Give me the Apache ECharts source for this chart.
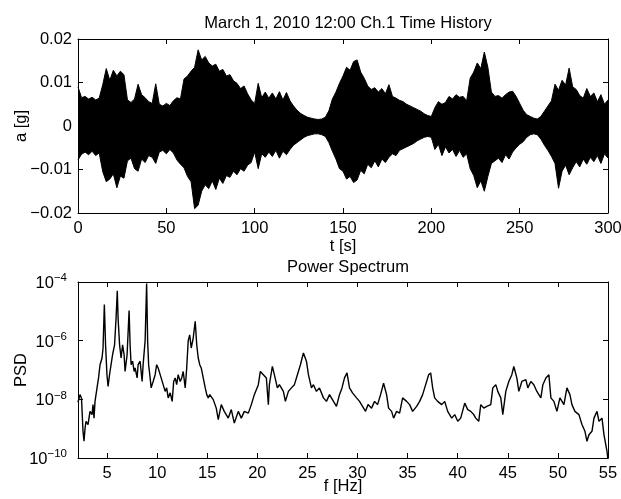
<!DOCTYPE html>
<html><head><meta charset="utf-8">
<script src="https://cdn.jsdelivr.net/npm/echarts@6/dist/echarts.min.js"></script>
<style>html,body{margin:0;padding:0;background:#fff}#c{width:621px;height:499px}</style>
</head><body><div id="c"></div><script>
// ---- Time history (envelope of the acceleration record) ----
const timeSec = [
  0,2,4,6,8,10,12,14,16,18,
  20,22,24,26,28,30,32,34,36,38,
  40,42,44,46,48,50,52,54,56,58,
  60,62,64,66,68,70,72,74,76,78,
  80,82,84,86,88,90,92,94,96,98,
  100,102,104,106,108,110,112,114,116,118,
  120,122,124,126,128,130,132,134,136,138,
  140,142,144,146,148,150,152,154,156,158,
  160,162,164,166,168,170,172,174,176,178,
  180,182,184,186,188,190,192,194,196,198,
  200,202,204,206,208,210,212,214,216,218,
  220,222,224,226,228,230,232,234,236,238,
  240,242,244,246,248,250,252,254,256,258,
  260,262,264,266,268,270,272,274,276,278,
  280,282,284,286,288,290,292,294,296,298,
  300];
// upper / lower envelope in milli-g
const accelUpper_mg = [
  9.0,6.5,6.8,6.2,6.6,6.0,6.4,9.5,13.2,10.5,
  12.8,11.5,12.6,11.8,6.0,5.4,6.2,9.6,7.2,6.5,
  5.6,5.2,9.7,5.0,4.6,5.2,4.7,5.8,6.5,6.2,
  10.8,11.5,12.6,13.5,17.5,15.2,16.0,14.5,13.8,14.2,
  12.6,13.0,11.5,11.8,10.4,9.8,8.6,9.2,7.4,6.0,
  5.2,9.8,6.5,7.8,6.4,7.6,6.2,7.9,6.0,7.7,
  5.8,4.6,3.6,2.9,2.4,2.0,1.8,1.6,1.5,1.6,
  2.0,3.5,6.2,7.8,9.8,11.5,13.5,12.8,14.8,15.2,
  12.4,11.0,9.2,8.4,8.8,7.8,8.6,7.4,9.5,6.8,
  6.4,5.9,5.6,5.0,4.6,4.2,3.8,3.4,2.8,2.4,
  2.2,4.2,5.6,5.0,5.4,6.8,6.2,7.2,6.6,6.8,
  5.8,11.0,12.4,14.5,13.2,17.0,13.5,7.8,6.8,7.0,
  6.4,7.2,7.8,8.0,6.8,5.2,3.6,2.6,2.2,1.8,
  1.6,2.2,3.4,4.6,5.8,9.6,8.2,10.5,9.4,13.3,
  9.0,8.4,7.0,6.4,8.6,6.8,7.6,5.6,7.2,5.0,
  6.0];
const accelLower_mg = [
  -7.8,-6.5,-6.0,-6.6,-5.8,-6.8,-6.2,-10.5,-12.8,-12.2,
  -11.0,-14.2,-11.5,-12.0,-8.0,-7.4,-9.8,-10.4,-7.6,-8.4,
  -6.8,-7.2,-8.6,-6.0,-5.6,-6.4,-5.4,-6.2,-7.8,-8.8,
  -9.6,-11.6,-12.8,-19.0,-18.2,-15.0,-13.5,-14.4,-12.6,-14.6,
  -12.0,-13.2,-11.4,-11.8,-10.4,-11.2,-9.8,-10.4,-9.0,-8.4,
  -6.0,-9.8,-6.4,-7.2,-6.0,-7.0,-5.6,-7.4,-5.8,-6.6,
  -5.4,-4.4,-3.8,-3.2,-2.6,-2.2,-2.0,-1.8,-1.8,-2.0,
  -2.4,-3.8,-5.8,-7.6,-9.8,-10.4,-12.2,-11.6,-13.0,-12.4,
  -10.2,-11.0,-8.8,-9.6,-8.0,-9.4,-7.6,-8.4,-7.2,-6.4,
  -6.8,-5.6,-5.2,-4.8,-4.4,-4.0,-3.4,-3.0,-2.6,-2.4,
  -2.6,-5.4,-4.2,-6.8,-4.8,-6.2,-5.4,-7.0,-5.6,-7.2,
  -6.4,-9.8,-11.4,-14.2,-12.6,-15.0,-11.6,-8.6,-8.0,-7.4,
  -8.4,-6.6,-7.6,-6.0,-5.0,-4.2,-3.6,-2.6,-2.0,-1.8,
  -2.0,-3.0,-4.4,-5.6,-7.0,-8.6,-14.3,-10.4,-9.0,-11.2,
  -9.6,-8.2,-9.4,-7.6,-8.8,-7.2,-8.2,-6.8,-8.6,-6.4,
  -7.4];

// ---- Power spectrum (log10 of PSD) ----
const psdFreqHz = [
  2.1,2.3,2.45,2.6,2.7,2.8,2.9,3.1,3.3,3.5,
  3.6,3.7,3.8,4.0,4.15,4.3,4.5,4.6,4.73,4.85,
  4.99,5.1,5.25,5.4,5.55,5.75,5.9,6.02,6.1,6.25,
  6.4,6.55,6.7,6.8,7.0,7.2,7.3,7.4,7.55,7.7,
  7.8,8.0,8.1,8.3,8.5,8.6,8.8,8.95,9.05,9.15,
  9.3,9.4,9.6,9.8,9.95,10.1,10.25,10.4,10.6,10.8,
  10.95,11.1,11.3,11.5,11.65,11.8,11.95,12.1,12.3,12.45,
  12.6,12.8,12.95,13.1,13.25,13.4,13.6,13.8,13.95,14.1,
  14.25,14.4,14.6,14.8,14.95,15.1,15.25,15.6,15.9,16.1,
  16.4,16.7,17.1,17.4,17.7,18.1,18.4,18.7,19.1,19.4,
  19.7,20.1,20.3,20.6,20.9,21.1,21.2,21.5,21.7,22.0,
  22.2,22.6,22.8,23.1,23.4,23.7,24.0,24.3,24.6,24.9,
  25.1,25.4,25.6,25.9,26.2,26.6,26.9,27.2,27.6,27.9,
  28.2,28.45,28.7,28.95,29.2,29.5,29.9,30.2,30.5,30.8,
  31.05,31.4,31.7,32.0,32.3,32.6,32.9,33.1,33.4,33.6,
  33.9,34.2,34.5,34.9,35.2,35.5,35.9,36.2,36.5,36.8,
  37.1,37.3,37.5,37.7,38.0,38.4,38.7,39.0,39.4,39.7,
  40.0,40.3,40.7,41.0,41.3,41.6,41.8,42.1,42.3,42.6,
  42.9,43.3,43.5,43.8,44.0,44.3,44.5,44.8,45.1,45.4,
  45.6,45.9,46.1,46.4,46.8,47.0,47.3,47.6,47.9,48.3,
  48.5,48.8,49.1,49.3,49.6,49.9,50.2,50.6,50.9,51.2,
  51.4,51.7,52.1,52.4,52.7,52.9,53.1,53.4,53.6,53.9,
  54.1,54.4,54.6,54.9,55.0];
const psdLog10 = [
  -8.10,-7.84,-7.96,-9.09,-9.43,-9.00,-8.75,-8.86,-8.41,-8.52,
  -8.18,-8.64,-8.07,-7.61,-7.27,-6.82,-6.59,-6.25,-4.77,-6.14,
  -7.16,-7.56,-7.16,-6.82,-6.48,-6.14,-5.23,-4.30,-5.23,-6.14,
  -6.59,-6.14,-6.48,-7.05,-6.48,-4.97,-6.14,-6.82,-6.70,-7.05,
  -6.93,-7.27,-6.82,-6.70,-7.39,-6.82,-6.00,-4.05,-6.00,-6.82,
  -7.27,-7.61,-7.39,-7.16,-6.82,-6.93,-6.88,-7.27,-7.50,-7.73,
  -7.61,-7.95,-7.78,-8.07,-7.39,-7.27,-7.50,-7.16,-7.39,-7.27,
  -7.05,-7.61,-6.93,-6.00,-5.80,-6.25,-5.91,-5.34,-6.14,-6.59,
  -6.82,-6.93,-7.27,-7.61,-7.84,-7.95,-7.84,-8.01,-8.30,-8.69,
  -8.18,-8.41,-8.64,-8.35,-8.81,-8.41,-8.64,-8.41,-8.47,-8.18,
  -7.84,-7.50,-7.05,-7.16,-7.27,-8.18,-7.50,-6.88,-7.16,-7.61,
  -7.50,-7.73,-8.07,-7.73,-7.61,-7.50,-7.16,-6.82,-6.42,-6.70,
  -7.16,-7.61,-7.50,-7.73,-7.61,-7.95,-8.07,-7.84,-8.07,-8.24,
  -7.84,-7.61,-7.27,-7.10,-7.61,-7.78,-7.95,-8.07,-8.24,-8.41,
  -8.18,-8.30,-8.07,-8.18,-7.84,-7.45,-7.84,-8.30,-8.41,-8.64,
  -8.41,-8.47,-7.95,-8.07,-8.18,-8.41,-8.24,-8.07,-7.84,-7.50,
  -7.16,-7.10,-7.61,-7.95,-8.07,-8.18,-8.07,-8.41,-8.64,-8.52,
  -8.75,-8.64,-8.13,-8.35,-8.41,-8.52,-8.64,-8.75,-8.18,-8.30,
  -8.24,-8.18,-7.61,-7.50,-7.73,-7.95,-8.52,-7.73,-7.39,-7.16,
  -6.88,-7.27,-7.73,-7.39,-7.33,-7.61,-7.39,-7.50,-7.73,-7.95,
  -7.50,-7.27,-7.16,-7.95,-8.07,-8.41,-7.95,-8.18,-7.61,-7.84,
  -8.18,-8.41,-8.52,-8.86,-9.09,-9.43,-9.21,-9.09,-8.64,-8.41,
  -8.75,-8.64,-9.21,-9.77,-10.06];

// ---- Tick values ----
const timeTicks = [0,50,100,150,200,250,300];
const accelTicks = [-0.02,-0.01,0,0.01,0.02];
const freqTicks = [5,10,15,20,25,30,35,40,45,50,55];
const psdTickExponents = [-10,-8,-6,-4];

const FONT = "'Liberation Sans', Arial, Helvetica, sans-serif";
const FS = 16.5;
const MINUS = '\u2212';
function fmtLin(v){ if (Math.abs(v) < 1e-9) return '0'; return (v < 0 ? MINUS : '') + Math.abs(v).toFixed(2); }
function fmtLog(v){ const e = Math.round(Math.log10(v)); return '{b|10}{s|' + (e < 0 ? MINUS : '') + Math.abs(e) + '}'; }

function axisBase(extra){
  return Object.assign({
    axisLine: {show: true, onZero: false, lineStyle: {color: '#000', width: 1}},
    axisTick: {show: true, inside: true, length: 5, lineStyle: {color: '#000', width: 1}},
    splitLine: {show: false},
    axisLabel: {show: false},
    nameMoveOverlap: false,
    nameTextStyle: {color: '#000', fontFamily: FONT, fontSize: FS}
  }, extra);
}
const labelStyle = {show: true, color: '#000', fontFamily: FONT, fontSize: FS, showMinLabel: true, showMaxLabel: true};

const chart = echarts.init(document.getElementById('c'), null, {renderer: 'canvas'});
const option = {
  animation: false,
  backgroundColor: '#fff',
  title: [
    {text: 'March 1, 2010 12:00 Ch.1 Time History', left: 343, top: 10, textAlign: 'center',
     textStyle: {fontFamily: FONT, fontSize: FS, fontWeight: 'normal', color: '#000'}},
    {text: 'Power Spectrum', left: 343, top: 254, textAlign: 'center',
     textStyle: {fontFamily: FONT, fontSize: FS, fontWeight: 'normal', color: '#000'}}
  ],
  grid: [
    {left: 78, top: 39, width: 530, height: 174, containLabel: false, outerBoundsMode: 'none'},
    {left: 78, top: 282, width: 530, height: 176, containLabel: false, outerBoundsMode: 'none'}
  ],
  xAxis: [
    axisBase({gridIndex: 0, type: 'value', min: timeTicks[0], max: timeTicks[timeTicks.length-1], interval: 50, position: 'bottom',
      name: 't [s]', nameLocation: 'middle', nameGap: 25,
      axisLabel: Object.assign({}, labelStyle, {margin: 7})}),
    axisBase({gridIndex: 0, type: 'value', min: timeTicks[0], max: timeTicks[timeTicks.length-1], interval: 50, position: 'top'}),
    axisBase({gridIndex: 1, type: 'value', min: 2.1, max: 55, position: 'bottom',
      name: 'f [Hz]', nameLocation: 'middle', nameGap: 20,
      axisTick: {show: true, inside: true, length: 5, lineStyle: {color: '#000'}, customValues: freqTicks},
      axisLabel: Object.assign({}, labelStyle, {margin: 7, customValues: freqTicks})}),
    axisBase({gridIndex: 1, type: 'value', min: 2.1, max: 55, position: 'top',
      axisTick: {show: true, inside: true, length: 5, lineStyle: {color: '#000'}, customValues: freqTicks}})
  ],
  yAxis: [
    axisBase({gridIndex: 0, type: 'value', min: accelTicks[0], max: accelTicks[accelTicks.length-1], interval: 0.01, position: 'left',
      name: 'a [g]', nameLocation: 'middle', nameGap: 48,
      axisLabel: Object.assign({}, labelStyle, {margin: 6, formatter: fmtLin})}),
    axisBase({gridIndex: 0, type: 'value', min: accelTicks[0], max: accelTicks[accelTicks.length-1], interval: 0.01, position: 'right'}),
    axisBase({gridIndex: 1, type: 'log', logBase: 10, min: Math.pow(10, psdTickExponents[0]), max: Math.pow(10, psdTickExponents[psdTickExponents.length-1]), interval: 2, position: 'left',
      name: 'PSD', nameLocation: 'middle', nameGap: 48,
      axisLabel: Object.assign({}, labelStyle, {margin: 11, formatter: fmtLog,
        rich: {b: {fontFamily: FONT, fontSize: FS, color: '#000', lineHeight: 20, verticalAlign: 'bottom'},
               s: {fontFamily: FONT, fontSize: 11.5, color: '#000', lineHeight: 11, verticalAlign: 'top'}}})}),
    axisBase({gridIndex: 1, type: 'log', logBase: 10, min: Math.pow(10, psdTickExponents[0]), max: Math.pow(10, psdTickExponents[psdTickExponents.length-1]), interval: 2, position: 'right'})
  ],
  series: [
    {name: 'upper', type: 'line', xAxisIndex: 0, yAxisIndex: 0, symbol: 'none', clip: true,
     data: timeSec.map((t, i) => [t, accelUpper_mg[i] / 1000]),
     lineStyle: {color: '#000', width: 1}, areaStyle: {color: '#000', opacity: 1}},
    {name: 'lower', type: 'line', xAxisIndex: 0, yAxisIndex: 0, symbol: 'none', clip: true,
     data: timeSec.map((t, i) => [t, accelLower_mg[i] / 1000]),
     lineStyle: {color: '#000', width: 1}, areaStyle: {color: '#000', opacity: 1}},
    {name: 'PSD', type: 'line', xAxisIndex: 2, yAxisIndex: 2, symbol: 'none', clip: true,
     data: psdFreqHz.map((f, i) => [f, Math.pow(10, psdLog10[i])]),
     lineStyle: {color: '#000', width: 1.4}}
  ]
};
chart.setOption(option);
</script></body></html>
